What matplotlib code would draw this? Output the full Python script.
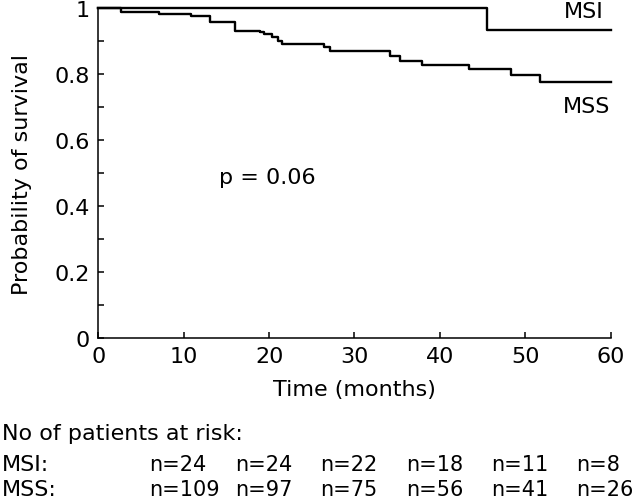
import matplotlib
matplotlib.use("Agg")
import matplotlib.pyplot as plt
import matplotlib.transforms as mtransforms
import numpy as np

# Kaplan-Meier steps
mss_time = [0, 2.7, 7.1, 10.8, 13.1, 16.0, 18.9, 19.4, 20.3, 21.0, 21.5,
            26.4, 27.1, 34.2, 35.3, 37.9, 43.4, 48.3, 51.7, 60]
mss_surv = [1.0, 0.989, 0.982, 0.975, 0.957, 0.931, 0.926, 0.920, 0.911, 0.901, 0.891,
            0.881, 0.871, 0.854, 0.840, 0.827, 0.815, 0.798, 0.775, 0.775]
msi_time = [0, 45.5, 60]
msi_surv = [1.0, 0.932, 0.932]

risk_months = [6, 16, 26, 36, 46, 56]
msi_risk = [24, 24, 22, 18, 11, 8]
mss_risk = [109, 97, 75, 56, 41, 26]

plt.rcParams['font.family'] = 'DejaVu Sans'
fs = 16

fig = plt.figure(figsize=(6.4, 5.02), dpi=100)
ax = fig.add_axes([0.1536, 0.3247, 0.8006, 0.6573])

ax.step(msi_time, msi_surv, where='post', color='black', lw=1.7, clip_on=False)
ax.step(mss_time, mss_surv, where='post', color='black', lw=1.7, clip_on=False)

ax.set_xlim(0, 60)
ax.set_ylim(0, 1)
ax.spines['top'].set_visible(False)
ax.spines['right'].set_visible(False)
for s in ['left', 'bottom']:
    ax.spines[s].set_linewidth(1.1)

ax.set_xticks(np.arange(0, 61, 10))
ax.set_yticks(np.arange(0, 1.01, 0.2))
ax.set_yticklabels(['0', '0.2', '0.4', '0.6', '0.8', '1'])
ax.set_yticks(np.arange(0.1, 1.0, 0.2), minor=True)
ax.tick_params(which='both', direction='in', length=4.5, width=1.1, labelsize=fs, pad=6)

ax.set_xlabel('Time (months)', fontsize=fs, labelpad=9)
ax.set_ylabel('Probability of survival', fontsize=fs, labelpad=16)

ax.text(59.2, 0.972, 'MSI', fontsize=fs, ha='right', va='baseline')
ax.text(60, 0.685, 'MSS', fontsize=fs, ha='right', va='baseline')
ax.text(14.1, 0.470, 'p = 0.06', fontsize=fs, ha='left', va='baseline')

# table of patients at risk
trans = mtransforms.blended_transform_factory(ax.transData, fig.transFigure)
fig.text(0.003, 0.1235, 'No of patients at risk:', fontsize=fs, va='baseline')
fig.text(0.003, 0.0618, 'MSI:', fontsize=fs, va='baseline')
fig.text(0.003, 0.012, 'MSS:', fontsize=fs, va='baseline')
for m, a, b in zip(risk_months, msi_risk, mss_risk):
    ax.text(m, 0.0618, f'n={a}', transform=trans, fontsize=15, va='baseline')
    ax.text(m, 0.012, f'n={b}', transform=trans, fontsize=15, va='baseline')

fig.savefig('out.png', dpi=100)
